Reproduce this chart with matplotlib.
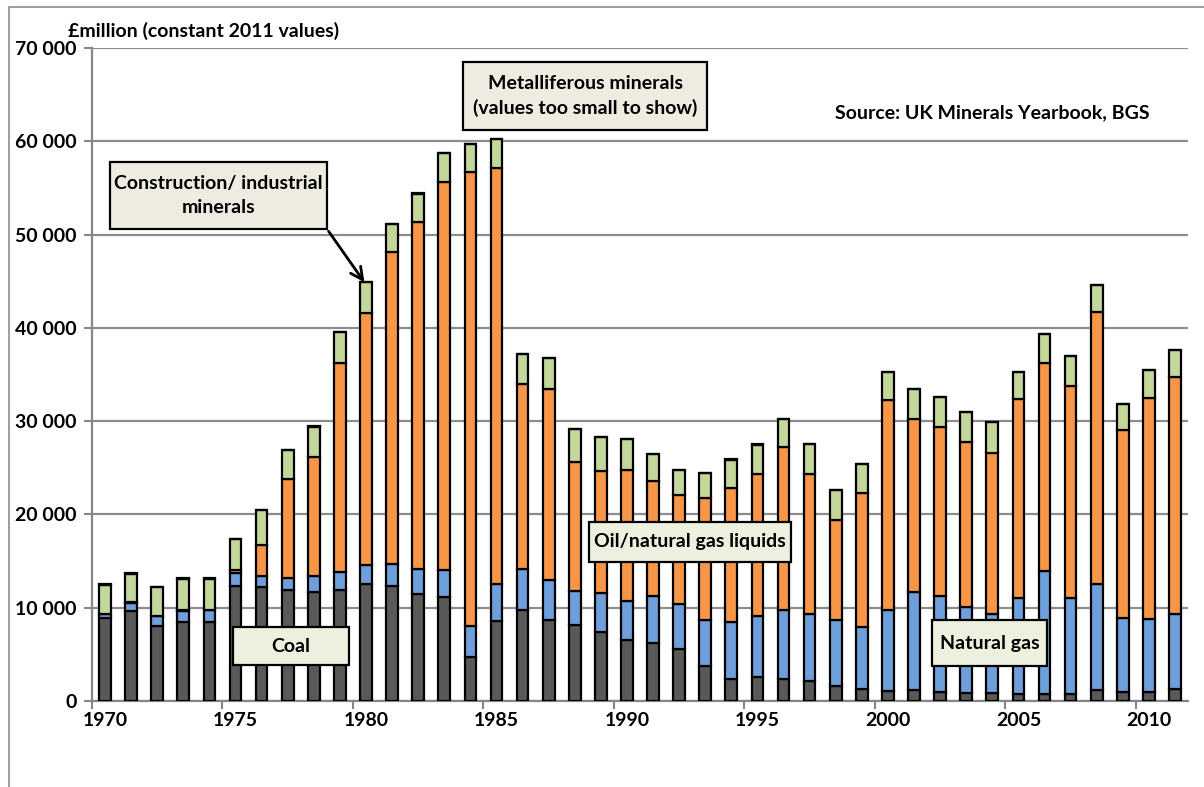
import numpy as np
import matplotlib.pyplot as plt
from matplotlib.patches import Rectangle

plt.rcParams['font.family'] = ['Lato', 'DejaVu Sans']
plt.rcParams['font.weight'] = 'bold'

years = list(range(1970, 2012))

# £million, constant 2011 values
coal = [8900, 9700, 8050, 8450, 8450, 12300, 12200, 11850, 11700, 11850,
        12500, 12300, 11450, 11100, 4700, 8550, 9800, 8670, 8130, 7420,
        6550, 6250, 5550, 3710, 2370, 2580, 2370, 2110, 1580, 1330,
        1080, 1220, 1000, 900, 900, 790, 750, 790, 1180, 1000,
        970, 1290]
natural_gas = [400, 850, 1050, 1250, 1300, 1400, 1200, 1330, 1750, 1980,
               2050, 2400, 2700, 2950, 3300, 3950, 4380, 4250, 3700, 4130,
               4200, 4970, 4840, 5000, 6090, 6560, 7340, 7170, 7060, 6590,
               8630, 10430, 10220, 9140, 8420, 10250, 13190, 10250, 11330, 7920,
               7810, 7990]
oil_ngl = [50, 20, 30, 30, 30, 300, 3330, 10600, 12750, 22370,
           27010, 33400, 37200, 41600, 48700, 44600, 19800, 20500, 13800, 13130,
           14050, 12340, 11720, 13010, 14410, 15160, 17490, 15020, 10750, 14340,
           22580, 18600, 18170, 17700, 17240, 21330, 22260, 22730, 29160, 20110,
           23690, 25490]
construction = [3100, 3050, 3080, 3380, 3330, 3330, 3730, 3120, 3200, 3320,
                3320, 3000, 3050, 3050, 3000, 3130, 3200, 3380, 3550, 3590,
                3300, 2880, 2670, 2710, 3010, 3190, 3010, 3220, 3190, 3120,
                3010, 3230, 3150, 3190, 3300, 2930, 3180, 3180, 2930, 2800,
                2980, 2890]
metalliferous = [60, 60, 60, 60, 60, 60, 60, 60, 60, 60,
                 60, 60, 60, 60, 60, 60, 20, 20, 20, 20,
                 20, 20, 20, 10, 10, 10, 10, 10, 10, 10,
                 10, 10, 10, 10, 10, 10, 10, 10, 10, 10,
                 10, 10]

series = [coal, natural_gas, oil_ngl, construction, metalliferous]
colours = ['#595959', '#6f9fdb', '#f79646', '#c4d79b', '#7030a0']

W, H = 1204, 787


def fx(x):
    return x / W


def fy(y):
    return 1 - y / H


fig = plt.figure(figsize=(W / 100, H / 100), dpi=100)
ax = fig.add_axes([fx(92), fy(701), fx(1188) - fx(92), fy(48) - fy(701)])

bottom = np.zeros(len(years))
for values, colour in zip(series, colours):
    ax.bar(years, values, width=0.45, bottom=bottom, color=colour,
           edgecolor='black', linewidth=1.6, zorder=3)
    bottom += np.array(values)

ax.set_xlim(1969.5, 2011.5)
ax.set_ylim(0, 70000)
ax.set_yticks(np.arange(0, 70001, 10000))
ax.set_yticklabels(['{:,}'.format(v).replace(',', ' ') for v in range(0, 70001, 10000)],
                   fontsize=14, fontweight='bold')
ax.set_xticks(np.arange(1969.5, 2011, 5))
ax.set_xticklabels([])
ax.set_xticks(np.arange(1970, 2012, 5), minor=True)
ax.set_xticklabels([str(y) for y in range(1970, 2012, 5)], minor=True,
                   fontsize=14, fontweight='bold')
ax.tick_params(axis='x', which='minor', length=0, pad=8)
ax.tick_params(axis='x', which='major', length=6, color='#868686', width=1.5)
ax.tick_params(axis='y', length=6, color='#868686', width=1.5, pad=5)

ax.yaxis.grid(True, color='#8c8c8c', linewidth=1.6)
ax.set_axisbelow(True)
for side in ['top', 'right']:
    ax.spines[side].set_visible(False)
for side in ['left', 'bottom']:
    ax.spines[side].set_color('#868686')
    ax.spines[side].set_linewidth(1.6)

# outer chart frame
fig.patches.append(Rectangle((fx(9), fy(820)), 1.2, fy(7) - fy(820),
                             transform=fig.transFigure, fill=False,
                             edgecolor='#8c8c8c', linewidth=1.2))

fig.text(fx(68), fy(31), '£million (constant 2011 values)', fontsize=14,
         fontweight='bold', va='center', ha='left')
fig.text(fx(992), fy(113), 'Source: UK Minerals Yearbook, BGS', fontsize=14,
         fontweight='bold', va='center', ha='center')


def label_box(x0, y0, x1, y1, text, face):
    fig.patches.append(Rectangle((fx(x0), fy(y1)), fx(x1) - fx(x0), fy(y0) - fy(y1),
                                 transform=fig.transFigure, facecolor=face,
                                 edgecolor='black', linewidth=1.6, zorder=5))
    fig.text(fx((x0 + x1) / 2), fy((y0 + y1) / 2), text, fontsize=14,
             fontweight='bold', ha='center', va='center', linespacing=1.45,
             zorder=6)


label_box(110, 162, 327, 229, 'Construction/ industrial\nminerals', '#eeece1')
label_box(463, 62, 707, 130, 'Metalliferous minerals\n(values too small to show)', '#eeece1')
label_box(589, 522, 791, 562, 'Oil/natural gas liquids', '#ebf1de')
label_box(932, 620, 1047, 666, 'Natural gas', '#ebf1de')
label_box(233, 627, 349, 665, 'Coal', '#ebf1de')

ax.annotate('', xy=(1980, bottom[10] - 300), xycoords='data',
            xytext=(fx(327), fy(229)), textcoords='figure fraction',
            arrowprops=dict(arrowstyle='->', color='black', lw=2,
                            mutation_scale=22))

fig.savefig('out.png', dpi=100)
